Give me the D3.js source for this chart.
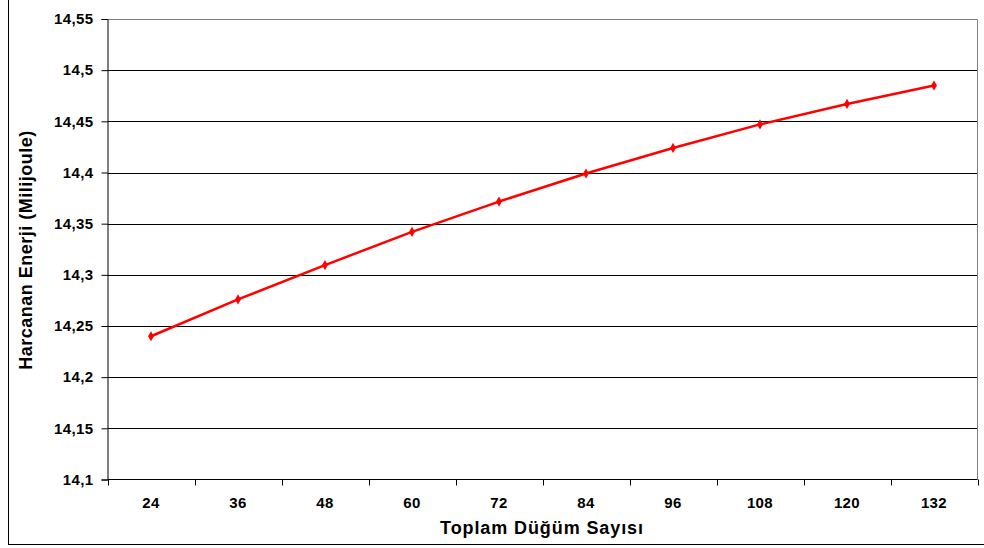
<!DOCTYPE html>
<html>
<head>
<meta charset="utf-8">
<script src="https://cdn.jsdelivr.net/npm/d3@7/dist/d3.min.js"></script>
<style>
  html, body { margin: 0; padding: 0; background: #fff; }
  svg { display: block; font-family: "Liberation Sans", Arial, sans-serif; }
</style>
</head>
<body>
<svg id="chart" width="984" height="548"></svg>
<script>
// Total node count (x categories) and consumed energy in millijoules
const categories = [24, 36, 48, 60, 72, 84, 96, 108, 120, 132];
const energy = [14.240, 14.276, 14.3095, 14.342, 14.3716, 14.399, 14.424, 14.447, 14.467, 14.485];
const yTicks = [14.1, 14.15, 14.2, 14.25, 14.3, 14.35, 14.4, 14.45, 14.5, 14.55];
const xTitle = "Toplam Düğüm Sayısı";
const yTitle = "Harcanan Enerji (Milijoule)";

const svg = d3.select("#chart");
const plot = { left: 107.5, right: 977.5, top: 19, bottom: 479.5 };

// outer chart frame
svg.append("rect")
  .attr("x", 8.5).attr("y", -2)
  .attr("width", 990).attr("height", 546.5)
  .attr("fill", "#fff").attr("stroke", "#000").attr("stroke-width", 1);

const x = d3.scaleBand().domain(categories).range([plot.left, plot.right]).padding(0);
const y = d3.scaleLinear().domain([14.1, 14.55]).range([plot.bottom, plot.top]);

const fmt = d => d3.format("")(+d.toFixed(2)).replace(".", ",");

// horizontal gridlines
svg.append("g").selectAll("line")
  .data(yTicks.slice(1, -1))
  .join("line")
  .attr("x1", plot.left).attr("x2", plot.right)
  .attr("y1", d => Math.round(y(d)) + 0.5).attr("y2", d => Math.round(y(d)) + 0.5)
  .attr("stroke", "#000").attr("stroke-width", 1);

// plot area border (top and right)
svg.append("path")
  .attr("d", `M${plot.left},${Math.round(plot.top) + 0.5}H${plot.right}V${plot.bottom}`)
  .attr("fill", "none").attr("stroke", "#808080").attr("stroke-width", 1);

// y axis
const yAxis = d3.axisLeft(y).tickValues(yTicks).tickSize(6).tickPadding(8).tickFormat(fmt);
const gy = svg.append("g")
  .attr("transform", `translate(${plot.left},0)`)
  .call(yAxis);
gy.select(".domain").attr("stroke", "#000");
gy.selectAll(".tick line").attr("stroke", "#000");
gy.selectAll(".tick text")
  .attr("fill", "#000")
  .style("font-size", "15px").style("font-weight", "bold").style("letter-spacing", "0.4px")
  .attr("x", -14);

// x axis with ticks between categories
const gx = svg.append("g")
  .attr("transform", `translate(0,${plot.bottom})`);
gx.append("line")
  .attr("x1", plot.left).attr("x2", plot.right)
  .attr("stroke", "#000");
const bounds = categories.map(c => x(c)).concat([x(categories[categories.length - 1]) + x.bandwidth()]);
gx.selectAll("line.tk")
  .data(bounds)
  .join("line").attr("class", "tk")
  .attr("x1", d => Math.round(d) + 0.5).attr("x2", d => Math.round(d) + 0.5)
  .attr("y1", 0).attr("y2", 6)
  .attr("stroke", "#000");
gx.selectAll("text")
  .data(categories)
  .join("text")
  .attr("x", d => x(d) + x.bandwidth() / 2)
  .attr("y", 28)
  .attr("text-anchor", "middle")
  .style("font-size", "15px").style("font-weight", "bold").style("letter-spacing", "0.4px")
  .text(d => d);

// axis titles
svg.append("text")
  .attr("x", 542).attr("y", 534)
  .attr("text-anchor", "middle")
  .style("font-size", "18px").style("font-weight", "bold").style("letter-spacing", "0.9px")
  .text(xTitle);

svg.append("text")
  .attr("transform", `translate(32,250) rotate(-90)`)
  .attr("text-anchor", "middle")
  .style("font-size", "18px").style("font-weight", "bold").style("letter-spacing", "0.5px")
  .text(yTitle);

// energy series
const cx = d => x(d) + x.bandwidth() / 2;
svg.append("path")
  .datum(categories.map((c, i) => [c, energy[i]]))
  .attr("fill", "none").attr("stroke", "#ff0000").attr("stroke-width", 2.5)
  .attr("stroke-linejoin", "round")
  .attr("d", d3.line().x(d => cx(d[0])).y(d => y(d[1])));

svg.append("g").selectAll("path")
  .data(categories.map((c, i) => [c, energy[i]]))
  .join("path")
  .attr("transform", d => `translate(${cx(d[0])},${y(d[1])})`)
  .attr("d", d3.symbol(d3.symbolDiamond, 30)())
  .attr("fill", "#ff0000");
</script>
</body>
</html>
